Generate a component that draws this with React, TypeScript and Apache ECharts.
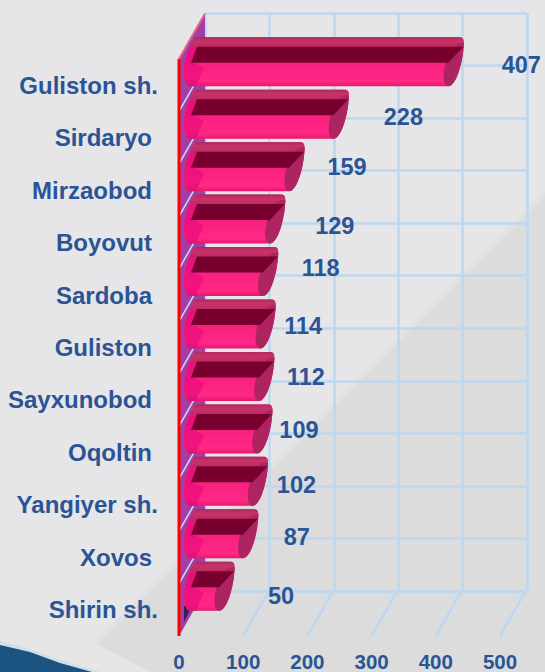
import React, { useEffect, useRef } from "react";
import * as echarts from "echarts";

const categories = ["Guliston sh.", "Sirdaryo ", "Mirzaobod ", "Boyovut ", "Sardoba ", "Guliston ", "Sayxunobod ", "Oqoltin ", "Yangiyer sh.", "Xovos ", "Shirin sh."];
const values = [407, 228, 159, 129, 118, 114, 112, 109, 102, 87, 50];
const valueTicks = [100, 200, 300, 400, 500];
const labelShiftX = [81, 78, 66, 73, 66, 51, 55, 50, 52, 62, 70];
const labelShiftY = [-20, -21, -23, -17, -27, -22, -23, -22, -20, -20, -14];

const DEPTH_X = 26;
const DEPTH_Y = -45.5;
const GRID_COLOR = "#bdd7ef";
const TEXT_COLOR = "#2a5496";
const FONT = '"Liberation Sans", Arial, sans-serif';

const grad = (stops: [number, string][]) =>
  new echarts.graphic.LinearGradient(0, 0, 0, 1, stops.map(([offset, color]) => ({ offset, color })));

function renderBar(params: any, api: any) {
  const v = api.value(0);
  const i = api.value(1);
  const [X, cy] = api.coord([v, i]);
  const L = api.coord([0, i])[0] + 4;
  const T = cy - 48;
  const B = cy + 1;
  const outline = `M${L + 13} ${T} L${X + 20} ${T} Q${X + 23.5} ${T} ${X + 23.5} ${T + 6} C${X + 23} ${T + 24} ${X + 16} ${B} ${X + 8} ${B} L${L + 6} ${B} C${L - 1} ${B - 2} ${L - 2} ${cy - 30} ${L + 13} ${T} Z`;
  const leftCap = `M${L + 13} ${T} L${L + 24} ${T + 9} L${L + 12} ${cy - 22} L${L + 21} ${cy - 17} L${L + 13} ${B} L${L + 6} ${B} C${L - 1} ${B - 2} ${L - 2} ${cy - 30} ${L + 13} ${T} Z`;
  const topStrip = `M${L + 13} ${T} L${X + 20} ${T} Q${X + 23.5} ${T} ${X + 23.5} ${T + 6} L${X + 23} ${cy - 38} L${L + 8} ${cy - 38} Q${L + 8} ${T + 3} ${L + 13} ${T} Z`;
  const rightCap = `M${X + 8} ${B} C${X + 3} ${B} ${X + 2} ${cy - 10} ${X + 5} ${cy - 21} C${X + 9} ${cy - 35} ${X + 17} ${T + 3} ${X + 23.5} ${T + 6} C${X + 23} ${T + 24} ${X + 16} ${B} ${X + 8} ${B} Z`;
  const stripe = `M${L + 14} ${cy - 38.5} L${X + 23} ${cy - 38.5} L${X + 8} ${cy - 22.5} L${L + 8} ${cy - 22.5} Z`;
  const bar = (d: string, fill: any) => ({ type: "path", shape: { pathData: d }, style: { fill } });
  return {
    type: "group",
    children: [
      bar(outline, grad([[0, "#c0285f"], [0.5, "#f8207f"], [0.9, "#ff2885"], [1, "#e6176f"]])),
      bar(leftCap, grad([[0, "#c02a6a"], [0.3, "#e8107c"], [0.85, "#f4137e"], [1, "#d81570"]])),
      bar(topStrip, grad([[0, "#ad2a5c"], [0.4, "#c93269"], [1, "#bd2a62"]])),
      bar(rightCap, "#ac2560"),
      bar(stripe, "#78002f"),
    ],
  };
}

function renderLabel(params: any, api: any) {
  const v = api.value(0);
  const i = api.value(1);
  const [X, cy] = api.coord([v, i]);
  return {
    type: "text",
    style: {
      text: String(v),
      x: X + labelShiftX[i],
      y: cy + labelShiftY[i],
      fill: TEXT_COLOR,
      font: `bold 23.5px ${FONT}`,
      textAlign: "center",
      textVerticalAlign: "middle",
    },
  };
}

function renderFloorLine(params: any, api: any) {
  const [x] = api.coord([api.value(0), 0]);
  const b = params.coordSys.y + params.coordSys.height;
  return {
    type: "line",
    shape: { x1: x, y1: b, x2: x + DEPTH_X, y2: b + DEPTH_Y },
    style: { stroke: GRID_COLOR, lineWidth: 2.5 },
  };
}

function renderWall(params: any, api: any) {
  const { x, y, height } = params.coordSys;
  const band = height / categories.length;
  const diag: any[] = [];
  for (let k = 0; k < categories.length; k++) {
    const yy = y + band * k;
    diag.push({
      type: "line",
      shape: { x1: x, y1: yy, x2: x + DEPTH_X, y2: yy + DEPTH_Y },
      style: { stroke: k === 0 ? "#e8627e" : "#cfdcf2", lineWidth: k === 0 ? 2 : 1.5 },
    });
  }
  return {
    type: "group",
    children: [
      {
        type: "polygon",
        shape: { points: [[x, y], [x + DEPTH_X, y + DEPTH_Y], [x + DEPTH_X, y + height + DEPTH_Y], [x, y + height]] },
        style: { fill: "#a23fa6" },
      },
      {
        type: "polygon",
        shape: { points: [[x + 5, y + height - 30], [x + 13, y + height - 30], [x + 5, y + height - 14]] },
        style: { fill: "#2a2450" },
      },
      ...diag,
      {
        type: "line",
        shape: { x1: x, y1: y, x2: x, y2: y + height },
        style: { stroke: "#ff0000", lineWidth: 3 },
      },
    ],
  };
}

export default function App() {
  const ref = useRef<HTMLDivElement>(null);
  useEffect(() => {
    const chart = echarts.init(ref.current!, null, { renderer: "svg" });
    chart.setOption({
      animation: false,
      backgroundColor: "#e6e6e8",
      graphic: [
        { type: "polygon", z: -11, silent: true, shape: { points: [[545, 191], [150, 586], [64, 672], [545, 672]] }, style: { fill: "#e1e1e2" } },
        { type: "polygon", z: -10, silent: true, shape: { points: [[545, 197], [160, 582], [70, 672], [545, 672]] }, style: { fill: "#dcdcdc" } },
        { type: "polygon", z: -9, silent: true, shape: { points: [[0, 610], [60, 625], [150, 672], [0, 672]] }, style: { fill: "#e6e6e5" } },
        { type: "polygon", z: -8, silent: true, shape: { points: [[0, 641], [30, 649], [60, 660], [102, 672], [0, 672]] }, style: { fill: "#cfe0ea" } },
        { type: "polygon", z: -7, silent: true, shape: { points: [[0, 645], [30, 652], [60, 663], [92, 672], [0, 672]] }, style: { fill: "#1b5480" } },
      ],
      grid: [
        { left: 179, width: 321, top: 59, height: 577 },
        { left: 205, width: 322, top: 13, height: 578 },
      ],
      xAxis: [
        {
          gridIndex: 0,
          type: "value",
          min: 0,
          max: 500,
          interval: 100,
          axisLine: { show: false },
          axisTick: { show: false },
          splitLine: { show: false },
          axisLabel: { show: true, margin: 15, color: TEXT_COLOR, fontFamily: FONT, fontWeight: "bold", fontSize: 20.5 },
        },
        {
          gridIndex: 1,
          type: "value",
          min: 0,
          max: 500,
          interval: 100,
          axisLine: { show: false },
          axisTick: { show: false },
          axisLabel: { show: false },
          splitLine: { show: true, lineStyle: { color: GRID_COLOR, width: 2.5 } },
        },
      ],
      yAxis: [
        {
          gridIndex: 0,
          type: "category",
          inverse: true,
          data: categories,
          axisLine: { show: false },
          axisTick: { show: false },
          splitLine: { show: false },
          axisLabel: {
            interval: 0,
            margin: 21,
            color: TEXT_COLOR,
            fontFamily: FONT,
            fontWeight: "bold",
            fontSize: 24,
            formatter: (name: string) => (name.endsWith(" ") ? `{p|${name.trim()}}` : name),
            rich: {
              p: { padding: [0, 6, 0, 0], color: TEXT_COLOR, fontFamily: FONT, fontWeight: "bold", fontSize: 24 },
            },
          },
        },
        {
          gridIndex: 1,
          type: "category",
          inverse: true,
          data: categories,
          axisLine: { show: false },
          axisTick: { show: false },
          axisLabel: { show: false },
          splitLine: { show: true, interval: 0, lineStyle: { color: GRID_COLOR, width: 2.5 } },
        },
      ],
      series: [
        { type: "custom", xAxisIndex: 0, yAxisIndex: 0, z: 2, silent: true, data: valueTicks.map((t) => [t]), encode: { x: 0 }, renderItem: renderFloorLine, clip: false },
        { type: "custom", xAxisIndex: 0, yAxisIndex: 0, z: 3, silent: true, data: [[0]], encode: { x: 0 }, renderItem: renderWall, clip: false },
        { type: "custom", xAxisIndex: 0, yAxisIndex: 0, z: 4, silent: true, data: values.map((v, i) => [v, i]), encode: { x: 0, y: 1 }, renderItem: renderBar, clip: false },
        { type: "custom", xAxisIndex: 0, yAxisIndex: 0, z: 5, silent: true, data: values.map((v, i) => [v, i]), encode: { x: 0, y: 1 }, renderItem: renderLabel, clip: false },
      ],
    });
    return () => chart.dispose();
  }, []);
  return <div ref={ref} style={{ position: "absolute", left: 0, top: 0, width: 545, height: 672 }} />;
}
